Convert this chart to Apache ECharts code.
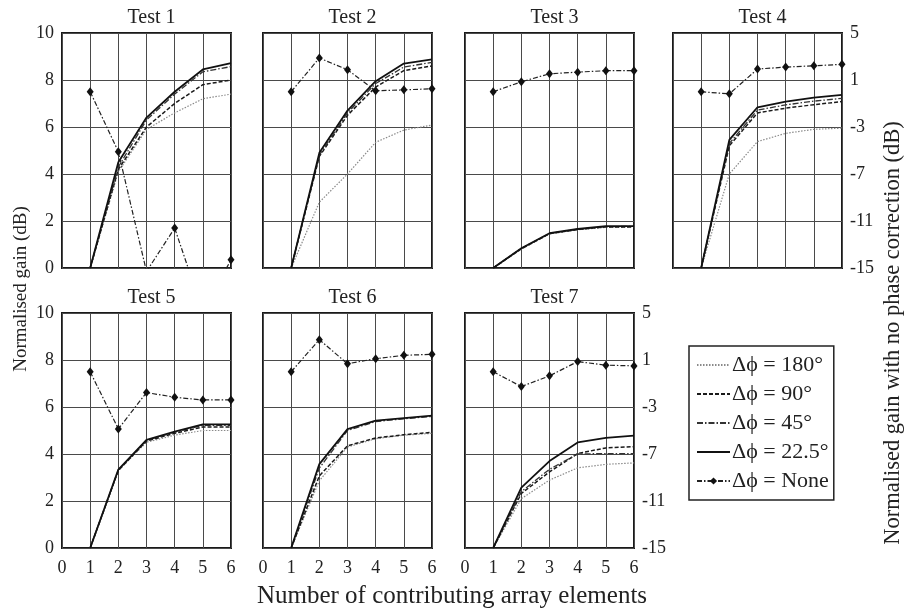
<!DOCTYPE html>
<html>
<head>
<meta charset="utf-8">
<script src="https://cdn.jsdelivr.net/npm/echarts@6/dist/echarts.min.js"></script>
<style>
  html, body { margin: 0; padding: 0; background: #fff; }
  #chart { width: 908px; height: 613px; }
</style>
</head>
<body>
<div id="chart"></div>
<script>
// Number of contributing array elements
const elements = [1, 2, 3, 4, 5, 6];

const panelTitles = ['Test 1', 'Test 2', 'Test 3', 'Test 4', 'Test 5', 'Test 6', 'Test 7'];
const seriesNames = ['\u0394\u03d5 = 180\u00b0', '\u0394\u03d5 = 90\u00b0', '\u0394\u03d5 = 45\u00b0', '\u0394\u03d5 = 22.5\u00b0', '\u0394\u03d5 = None'];

const leftTicks = [0, 2, 4, 6, 8, 10];
const rightTicks = [-15, -11, -7, -3, 1, 5];
const xTicks = [0, 1, 2, 3, 4, 5, 6];

// Normalised gain (dB), phase-corrected, per test
const test1_180 = [0, 4.1, 5.9, 6.6, 7.2, 7.4];
const test1_90 = [0, 4.2, 6.0, 7.0, 7.8, 8.0];
const test1_45 = [0, 4.3, 6.3, 7.4, 8.35, 8.57];
const test1_225 = [0, 4.5, 6.4, 7.5, 8.45, 8.72];

const test2_180 = [0, 2.8, 4.0, 5.35, 5.87, 6.08];
const test2_90 = [0, 4.75, 6.5, 7.7, 8.4, 8.6];
const test2_45 = [0, 4.8, 6.6, 7.85, 8.55, 8.75];
const test2_225 = [0, 4.9, 6.7, 7.95, 8.7, 8.88];

const test3_180 = [0, 0.8, 1.45, 1.63, 1.73, 1.75];
const test3_90 = [0, 0.82, 1.46, 1.64, 1.75, 1.75];
const test3_45 = [0, 0.83, 1.47, 1.65, 1.76, 1.77];
const test3_225 = [0, 0.84, 1.48, 1.66, 1.78, 1.78];

const test4_180 = [0, 4.0, 5.38, 5.73, 5.9, 5.95];
const test4_90 = [0, 5.2, 6.6, 6.8, 6.95, 7.08];
const test4_45 = [0, 5.3, 6.72, 6.94, 7.1, 7.22];
const test4_225 = [0, 5.45, 6.84, 7.08, 7.25, 7.37];

const test5_180 = [0, 3.3, 4.5, 4.8, 5.0, 5.0];
const test5_90 = [0, 3.3, 4.55, 4.88, 5.15, 5.15];
const test5_45 = [0, 3.32, 4.58, 4.93, 5.22, 5.22];
const test5_225 = [0, 3.34, 4.6, 4.95, 5.26, 5.26];

const test6_180 = [0, 2.86, 4.3, 4.65, 4.8, 4.88];
const test6_90 = [0, 3.07, 4.35, 4.68, 4.82, 4.92];
const test6_45 = [0, 3.4, 5.0, 5.38, 5.5, 5.6];
const test6_225 = [0, 3.57, 5.06, 5.42, 5.53, 5.63];

const test7_180 = [0, 2.1, 2.89, 3.41, 3.56, 3.62];
const test7_90 = [0, 2.32, 3.24, 4.02, 4.26, 4.31];
const test7_45 = [0, 2.4, 3.35, 4.0, 4.02, 4.02];
const test7_225 = [0, 2.57, 3.7, 4.49, 4.69, 4.78];

// Normalised gain with no phase correction (dB), right-hand axis
const test1_none = [0, -5.1, -15.3, -11.6, -18.7, -14.3];
const test2_none = [0, 2.87, 1.87, 0.08, 0.16, 0.25];
const test3_none = [0, 0.85, 1.53, 1.67, 1.79, 1.79];
const test4_none = [0, -0.18, 1.93, 2.1, 2.21, 2.33];
const test5_none = [0, -4.87, -1.77, -2.17, -2.4, -2.4];
const test6_none = [0, 2.73, 0.68, 1.11, 1.4, 1.48];
const test7_none = [0, -1.26, -0.35, 0.87, 0.56, 0.5];

const panels = [
  [test1_180, test1_90, test1_45, test1_225, test1_none],
  [test2_180, test2_90, test2_45, test2_225, test2_none],
  [test3_180, test3_90, test3_45, test3_225, test3_none],
  [test4_180, test4_90, test4_45, test4_225, test4_none],
  [test5_180, test5_90, test5_45, test5_225, test5_none],
  [test6_180, test6_90, test6_45, test6_225, test6_none],
  [test7_180, test7_90, test7_45, test7_225, test7_none]
];

const FONT = '"Liberation Serif", "DejaVu Serif", serif';
const W = 169, H = 235;
const colLeft = [62, 263, 465, 673];
const rowTop = [33, 313];
const showLeft = [true, false, false, false, true, false, false];
const showRight = [false, false, false, true, false, false, true];
const showX = [false, false, false, false, true, true, true];

const lineStyles = [
  { color: '#8a8a8a', width: 1.2, type: [1.5, 1.5] },
  { color: '#1a1a1a', width: 1.5, type: [4, 2] },
  { color: '#333333', width: 1.3, type: [6, 2, 1.5, 2] },
  { color: '#111111', width: 1.8, type: 'solid' },
  { color: '#222222', width: 1.2, type: [5, 2, 1.5, 2] }
];

const grids = [], xAxes = [], yAxes = [], series = [], titles = [];

panels.forEach((panel, i) => {
  const col = i < 4 ? i : i - 4;
  const row = i < 4 ? 0 : 1;
  const left = colLeft[col], top = rowTop[row];
  grids.push({
    left: left, top: top, width: W, height: H,
    show: true, borderColor: '#1a1a1a', borderWidth: 2, backgroundColor: 'transparent'
  });
  titles.push({
    text: panelTitles[i], left: left + W / 2, top: top - 30, textAlign: 'center',
    textStyle: { fontFamily: FONT, fontSize: 20, fontWeight: 'normal', color: '#222' }
  });
  xAxes.push({
    type: 'value', gridIndex: i, min: xTicks[0], max: xTicks[xTicks.length - 1], interval: 1,
    axisLine: { show: false }, axisTick: { show: false },
    axisLabel: { show: showX[i], fontFamily: FONT, fontSize: 18, color: '#222', margin: 11 },
    splitLine: { show: true, lineStyle: { color: '#4a4a4a', width: 1 } }
  });
  yAxes.push({
    type: 'value', gridIndex: i, position: 'left',
    min: leftTicks[0], max: leftTicks[leftTicks.length - 1], interval: 2,
    axisLine: { show: false }, axisTick: { show: false },
    axisLabel: { show: showLeft[i], fontFamily: FONT, fontSize: 18, color: '#222', margin: 8 },
    splitLine: { show: true, lineStyle: { color: '#4a4a4a', width: 1 } }
  });
  yAxes.push({
    type: 'value', gridIndex: i, position: 'right',
    min: rightTicks[0], max: rightTicks[rightTicks.length - 1], interval: 4,
    axisLine: { show: false }, axisTick: { show: false },
    axisLabel: { show: showRight[i], fontFamily: FONT, fontSize: 18, color: '#222', margin: 8 },
    splitLine: { show: false }
  });
  panel.forEach((vals, k) => {
    const isNone = k === 4;
    series.push({
      name: seriesNames[k],
      type: 'line',
      xAxisIndex: i,
      yAxisIndex: isNone ? 2 * i + 1 : 2 * i,
      data: vals.map((v, j) => [elements[j], v]),
      clip: true,
      symbol: isNone ? 'diamond' : 'none',
      symbolSize: isNone ? [7, 9] : 0,
      showSymbol: isNone,
      itemStyle: { color: '#111' },
      lineStyle: lineStyles[k],
      z: 2 + k,
      animation: false
    });
  });
});

// Legend entries: plain line samples, diamond marker only for the uncorrected case
const legendData = seriesNames.map((name, k) => (
  k === 4 ? { name: name } : { name: name, itemStyle: { opacity: 0 } }
));

const chart = echarts.init(document.getElementById('chart'), null, { renderer: 'canvas' });
chart.setOption({
  backgroundColor: '#ffffff',
  animation: false,
  title: titles,
  grid: grids,
  xAxis: xAxes,
  yAxis: yAxes,
  series: series,
  legend: {
    data: legendData,
    orient: 'vertical',
    left: 689, top: 346,
    padding: [8, 5, 8, 7],
    itemGap: 7,
    itemWidth: 33, itemHeight: 9,
    borderColor: '#222', borderWidth: 1.5,
    textStyle: { fontFamily: FONT, fontSize: 22, color: '#222', padding: [0, 0, 0, -3] },
    selectedMode: false
  },
  graphic: [
    {
      type: 'text', x: 21, y: 289, rotation: Math.PI / 2,
      style: { text: 'Normalised gain (dB)', font: '19px ' + FONT, fill: '#222', align: 'center', verticalAlign: 'middle' }
    },
    {
      type: 'text', x: 893, y: 333, rotation: Math.PI / 2,
      style: { text: 'Normalised gain with no phase correction (dB)', font: '22.5px ' + FONT, fill: '#222', align: 'center', verticalAlign: 'middle' }
    },
    {
      type: 'text', x: 452, y: 596,
      style: { text: 'Number of contributing array elements', font: '25px ' + FONT, fill: '#222', align: 'center', verticalAlign: 'middle' }
    }
  ]
});
</script>
</body>
</html>
